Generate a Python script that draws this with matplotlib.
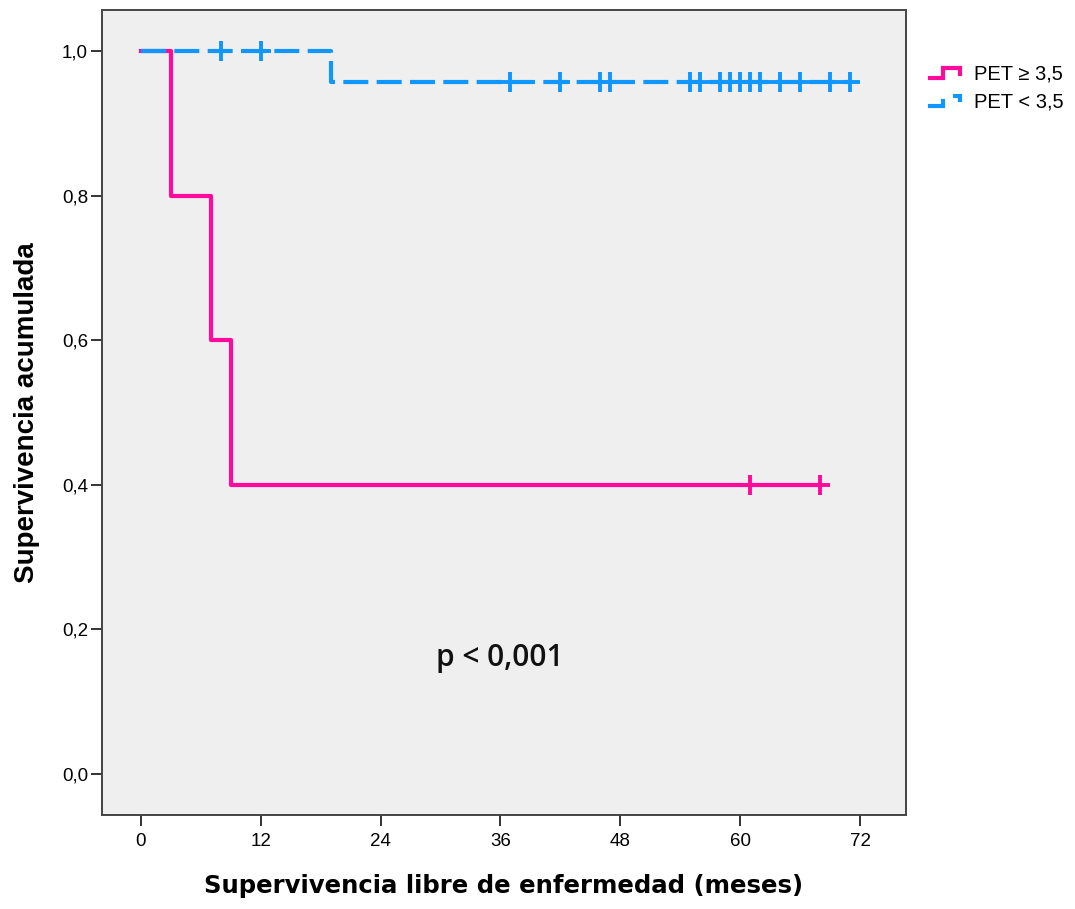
import numpy as np
import matplotlib
matplotlib.use("Agg")
import matplotlib.pyplot as plt
from matplotlib.lines import Line2D
from matplotlib.legend_handler import HandlerBase

# Kaplan-Meier curves
PINK_T    = [0, 3, 7, 9, 68]
PINK_S    = [1.0, 0.8, 0.6, 0.4, 0.4]
PINK_CENS = [61, 68]

BLUE_T        = [0, 19, 71]
BLUE_S        = [1.0, 0.958, 0.958]
BLUE_CENS_TOP = [8, 12]
BLUE_CENS_LOW = [37, 42, 46, 47, 55, 56, 58, 59, 60, 61, 62, 64, 66, 69, 71]

LABELS  = ["PET \u2265 3,5", "PET < 3,5"]
XTICKS  = [0, 12, 24, 36, 48, 60, 72]
YTICKS  = [0.0, 0.2, 0.4, 0.6, 0.8, 1.0]

PINK = "#FF0A9B"
BLUE = "#1096FF"
LW   = 3.0


class StepHandler(HandlerBase):
    def __init__(self, dashed=False):
        super().__init__()
        self.dashed = dashed

    def create_artists(self, legend, orig_handle, xd, yd, width, height, fontsize, trans):
        c = orig_handle.get_color()
        y0 = yd + height * 0.1
        y1 = yd + height * 0.8
        if not self.dashed:
            xs = [xd, xd + width * 0.45, xd + width * 0.45, xd + width, xd + width]
            ys = [y0, y0, y1, y1, y0 + height * 0.3]
            ln = Line2D(xs, ys, color=c, lw=LW, transform=trans, solid_joinstyle="miter")
            return [ln]
        a = Line2D([xd, xd + width * 0.45, xd + width * 0.45], [y0, y0, y0 + height * 0.35],
                   color=c, lw=LW, transform=trans, solid_joinstyle="miter")
        b = Line2D([xd + width * 0.85, xd + width, xd + width], [y1, y1, y1 - height * 0.3],
                   color=c, lw=LW, transform=trans, solid_joinstyle="miter")
        return [a, b]


fig = plt.figure(figsize=(10.75, 9.09), dpi=100)
ax = fig.add_axes([0.0948, 0.1034, 0.7480, 0.8856])
ax.set_facecolor("#EFEFEF")

# pink curve
ax.step(PINK_T, PINK_S, where="post", color=PINK, lw=LW, zorder=3)
ax.plot(PINK_CENS, [PINK_S[-1]] * len(PINK_CENS), ls="none", marker="+",
        ms=15, mew=2.8, color=PINK, zorder=4)

# blue curve
ax.step(BLUE_T, BLUE_S, where="post", color=BLUE, lw=LW, dashes=(6.0, 2.0), zorder=3)
ax.plot(BLUE_CENS_TOP, [BLUE_S[0]] * len(BLUE_CENS_TOP), ls="none", marker="+",
        ms=15, mew=2.8, color=BLUE, zorder=4)
ax.plot(BLUE_CENS_LOW, [BLUE_S[-1]] * len(BLUE_CENS_LOW), ls="none", marker="+",
        ms=15, mew=2.8, color=BLUE, zorder=4)

ax.set_xlim(-3.9, 76.6)
ax.set_ylim(-0.057, 1.057)
ax.set_xticks(XTICKS)
ax.set_yticks(YTICKS)
ax.set_xticklabels([str(t) for t in XTICKS], family="Liberation Sans", fontsize=13.5)
ax.set_yticklabels([f"{v:.1f}".replace(".", ",") for v in YTICKS],
                   family="Liberation Sans", fontsize=13.5)
ax.tick_params(direction="out", length=8, width=1.4, color="#333333")
ax.tick_params(axis="y", pad=2)
ax.tick_params(axis="x", pad=5)
for s in ax.spines.values():
    s.set_color("#444444")
    s.set_linewidth(1.4)

ax.set_xlabel("Supervivencia libre de enfermedad (meses)", family="DejaVu Sans",
              fontweight="bold", fontsize=17.6, labelpad=17)
ax.set_ylabel("Supervivencia acumulada", family="Liberation Sans",
              fontweight="bold", fontsize=20, labelpad=16)

ax.text(35.9, 0.16, "p < 0,001", family="Open Sans", fontsize=21.5, fontweight="semibold",
        ha="center", va="center", color="#111111")

h_pink = Line2D([], [], color=PINK)
h_blue = Line2D([], [], color=BLUE)
fig.legend([h_pink, h_blue], LABELS, loc="upper left", bbox_to_anchor=(0.848, 0.949),
           frameon=False, prop={"family": "Liberation Sans", "size": 14.5},
           handler_map={h_pink: StepHandler(False), h_blue: StepHandler(True)},
           handlelength=1.5, handletextpad=0.7, labelspacing=0.45)

fig.savefig("out.png", dpi=100)
